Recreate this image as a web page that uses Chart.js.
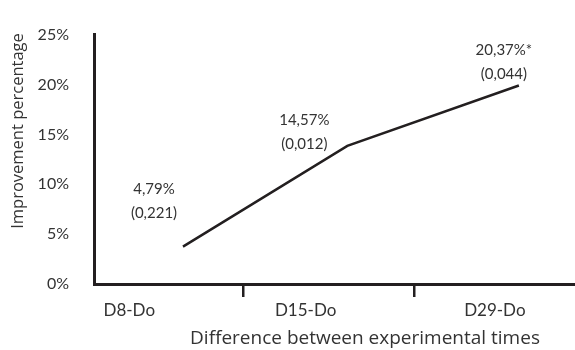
<!DOCTYPE html>
<html>
<head>
<meta charset="utf-8">
<script src="https://cdn.jsdelivr.net/npm/chart.js@4"></script>
<style>
    html, body { margin: 0; padding: 0; background: #fff; }
    #wrap { width: 575px; height: 350px; }
</style>
</head>
<body>
<div id="wrap"><canvas id="chart"></canvas></div>
<script>
const CATEGORIES = ['D8-Do', 'D15-Do', 'D29-Do'];
const CATEGORY_X = [0.22, 1.32, 2.5];
const DIVIDER_X = [0.93, 2.0];
const POINT_X = [0.555, 1.58, 2.65];
const IMPROVEMENT = [3.75, 13.85, 19.9];
const IMPROVEMENT_LABELS = ['4,79%', '14,57%', '20,37%*'];
const P_VALUES = ['(0,221)', '(0,012)', '(0,044)'];
const Y_TICKS = [0, 5, 10, 15, 20, 25];

const INK = '#231f20';
const TEXT = '#333333';
const FONT = 'Lato';
const TITLE_FONT = '"Open Sans"';

// where each two-line label sits, relative to its point
const labelOffsets = [[-29, -57], [-43, -26], [-15, -35]];

const textPlugin = {
    id: 'textPlugin',
    afterDatasetsDraw(chart){
        const ctx = chart.ctx;
        const meta = chart.getDatasetMeta(0);
        ctx.save();
        ctx.fillStyle = TEXT;
        ctx.textAlign = 'center';
        ctx.textBaseline = 'middle';
        ctx.font = '15px ' + FONT;
        meta.data.forEach((pt, i) => {
            const [dx, dy] = labelOffsets[i];
            ctx.fillText(IMPROVEMENT_LABELS[i], pt.x + dx, pt.y + dy);
            ctx.fillText(P_VALUES[i], pt.x + dx, pt.y + dy + 24);
        });
        // axis titles
        ctx.font = '19px ' + TITLE_FONT;
        ctx.fillText('Difference between experimental times', 365, 339);
        ctx.translate(18, 131);
        ctx.rotate(-Math.PI / 2);
        ctx.font = '16.5px ' + TITLE_FONT;
        ctx.fillText('Improvement percentage', 0, 0);
        ctx.restore();
    }
};

new Chart(document.getElementById('chart'), {
    type: 'line',
    data: {
        datasets: [{
            data: POINT_X.map((x, i) => ({x: x, y: IMPROVEMENT[i]})),
            borderColor: INK,
            borderWidth: 2.5,
            pointRadius: 0,
            tension: 0
        }]
    },
    options: {
        responsive: true,
        maintainAspectRatio: false,
        animation: false,
        layout: { padding: { top: 24, right: 0, left: 0, bottom: 0 } },
        plugins: {
            legend: { display: false },
            tooltip: { enabled: false }
        },
        scales: {
            x: {
                type: 'linear',
                min: 0,
                max: 3,
                afterBuildTicks: (scale) => {
                    scale.ticks = DIVIDER_X.concat(CATEGORY_X).sort((a, b) => a - b).map(v => ({value: v}));
                },
                afterFit: (scale) => { scale.height = 66; },
                ticks: {
                    autoSkip: false,
                    maxRotation: 0,
                    padding: 3,
                    color: TEXT,
                    font: { family: FONT, size: 17 },
                    callback: (v) => {
                        const i = CATEGORY_X.indexOf(v);
                        return i >= 0 ? CATEGORIES[i] : '';
                    }
                },
                grid: {
                    drawOnChartArea: false,
                    tickLength: 13,
                    lineWidth: 2.5,
                    color: (c) => (c.tick && DIVIDER_X.includes(c.tick.value)) ? INK : 'rgba(0,0,0,0)'
                },
                border: { color: INK, width: 3 }
            },
            y: {
                min: 0,
                max: 25,
                afterBuildTicks: (scale) => {
                    scale.ticks = Y_TICKS.map(v => ({value: v}));
                },
                afterFit: (scale) => { scale.width = 94; },
                ticks: {
                    padding: 25,
                    color: TEXT,
                    font: { family: FONT, size: 16 },
                    callback: (v) => v + '%'
                },
                grid: { drawOnChartArea: false, drawTicks: false },
                border: { color: INK, width: 3 }
            }
        }
    },
    plugins: [textPlugin]
});
</script>
</body>
</html>
